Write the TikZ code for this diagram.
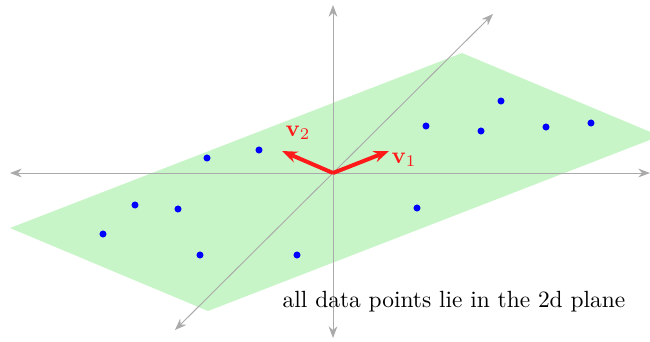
\documentclass[tikz,border=0pt]{standalone}
\usepackage{amsmath,amssymb}
\usetikzlibrary{arrows.meta,positioning}
\definecolor{plane}{HTML}{C8F5C8}
\definecolor{axis}{HTML}{AAAAAA}
\definecolor{pc}{HTML}{FF1A1A}

\begin{document}
\begin{tikzpicture}[x=0.015cm,y=-0.015cm]
  \useasboundingbox (0,0) rectangle (650,341);

  % Plane spanned by the data
  \fill[plane] (10,228) -- (462,53) -- (660,136) -- (208,311) -- cycle;

  % Axes
  \coordinate (O) at (333,173);
  \coordinate (xl) at (10,173);  \coordinate (xr) at (650,173);
  \coordinate (yt) at (333,5);   \coordinate (yb) at (333,338);
  \coordinate (zb) at (175,330); \coordinate (zt) at (493,14);
  \draw[axis, thin, {Stealth[length=5pt]}-{Stealth[length=5pt]}] (xl) -- (xr);
  \draw[axis, thin, {Stealth[length=5pt]}-{Stealth[length=5pt]}] (yb) -- (yt);
  \draw[axis, thin, {Stealth[length=5pt]}-{Stealth[length=5pt]}] (zb) -- (zt);

  % Data points
  \foreach \px/\py in {103/234, 135/205, 178/209, 207/158, 259/150, 200/255,
                       297/255, 417/208, 426/126, 481/131, 501/101, 546/127, 591/123}
    \fill[blue] (\px,\py) circle (1.5pt);

  % Principal directions
  \coordinate (v1) at (389,151);
  \coordinate (v2) at (282,151);
  \draw[pc, line width=1.7pt, -{Stealth[length=6.5pt]}] (O) -- (v1);
  \draw[pc, line width=1.7pt, -{Stealth[length=6.5pt]}] (O) -- (v2);
  \node[pc] (v1lab) at (404,160) {$\mathbf{v}_1$};
  \node[pc] (v2lab) at (298,133) {$\mathbf{v}_2$};

  % Caption
  \node (cap) at (454,302) {all data points lie in the 2d plane};
\end{tikzpicture}
\end{document}
